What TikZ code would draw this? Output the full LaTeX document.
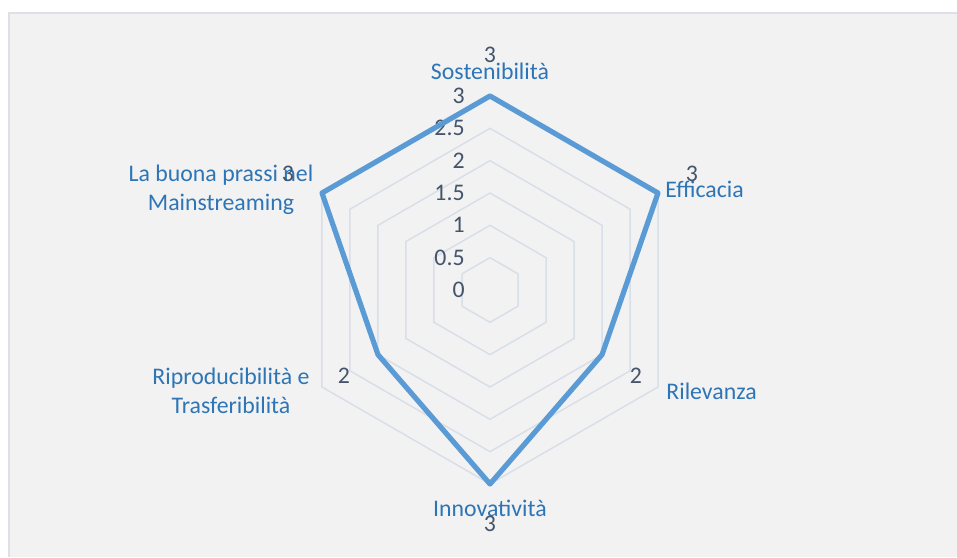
\documentclass[tikz,border=0pt]{standalone}
\usepackage{fontspec}
\setmainfont{Carlito}
\usetikzlibrary{positioning}
\definecolor{sfondo}{HTML}{F2F2F2}
\definecolor{bordo}{HTML}{DDE1E6}
\definecolor{griglia}{HTML}{D9DFE8}
\definecolor{serieblu}{HTML}{5B9BD5}
\definecolor{testoblu}{HTML}{2E75B6}
\definecolor{testogrigio}{HTML}{44546A}
\tikzset{
	every node/.style={
		font=\fontsize{11.9}{14.5}\selectfont,
		inner sep=0pt
	},
	categoria/.style={
		text=testoblu,
		align=center
	},
	valore/.style={
		text=testogrigio
	},
	scala/.style={
		text=testogrigio,
		anchor=east
	},
	anello/.style={
		draw=griglia,
		line width=0.75pt
	},
	serie/.style={
		draw=serieblu,
		line width=2.6pt,
		line join=round
	}
}

\begin{document}
\begin{tikzpicture}[x=0.5pt,y=0.5pt]
	\useasboundingbox (-490,-267) rectangle (467,290);
	
	% area del grafico
	\fill[sfondo] (-481,-267) rectangle (467,277);
	\draw[bordo, line width=1pt] (-481,-267) -- (-481,277) -- (467,277);
	
	% anelli della griglia
	\draw[anello] (90:32.33) -- (30:32.33) -- (-30:32.33) -- (-90:32.33) -- (-150:32.33) -- (150:32.33) -- cycle;
	\draw[anello] (90:64.67) -- (30:64.67) -- (-30:64.67) -- (-90:64.67) -- (-150:64.67) -- (150:64.67) -- cycle;
	\draw[anello] (90:97) -- (30:97) -- (-30:97) -- (-90:97) -- (-150:97) -- (150:97) -- cycle;
	\draw[anello] (90:129.33) -- (30:129.33) -- (-30:129.33) -- (-90:129.33) -- (-150:129.33) -- (150:129.33) -- cycle;
	\draw[anello] (90:161.67) -- (30:161.67) -- (-30:161.67) -- (-90:161.67) -- (-150:161.67) -- (150:161.67) -- cycle;
	\draw[anello] (90:194) -- (30:194) -- (-30:194) -- (-90:194) -- (-150:194) -- (150:194) -- cycle;
	
	% scala
	\node[scala] (s0)  at (-25,0)      {0};
	\node[scala] (s05) at (-25,32.33)  {0.5};
	\node[scala] (s1)  at (-25,64.67)  {1};
	\node[scala] (s15) at (-25,97)     {1.5};
	\node[scala] (s2)  at (-25,129.33) {2};
	\node[scala] (s25) at (-25,161.67) {2.5};
	\node[scala] (s3)  at (-25,194)    {3};
	
	% serie
	\coordinate (psost)   at (90:194);
	\coordinate (peffic)  at (30:194);
	\coordinate (prilev)  at (-30:129.33);
	\coordinate (pinnov)  at (-90:194);
	\coordinate (pripro)  at (-150:129.33);
	\coordinate (pprassi) at (150:194);
	\draw[serie] (psost) -- (peffic) -- (prilev) -- (pinnov) -- (pripro) -- (pprassi) -- cycle;
	
	% categorie
	\node[categoria] (sost)  at (0,219) {Sostenibilità};
	\node[categoria, anchor=west] (effic) at (175,101) {Efficacia};
	\node[categoria, anchor=west] (rilev) at (176,-101) {Rilevanza};
	\node[categoria] (innov) at (0,-218) {Innovatività};
	\node[categoria] (ripro) at (-259,-101) {Riproducibilità e\\Trasferibilità};
	\node[categoria] (prassi) at (-269,100) {La buona prassi nel\\Mainstreaming};
	
	% etichette dei valori
	\node[valore] (vsost)   at (0,235)     {3};
	\node[valore] (veffic)  at (202,116)   {3};
	\node[valore] (vrilev)  at (146,-86)   {2};
	\node[valore] (vinnov)  at (0,-234)    {3};
	\node[valore] (vripro)  at (-146,-86)  {2};
	\node[valore] (vprassi) at (-202,116)  {3};
\end{tikzpicture}
\end{document}
